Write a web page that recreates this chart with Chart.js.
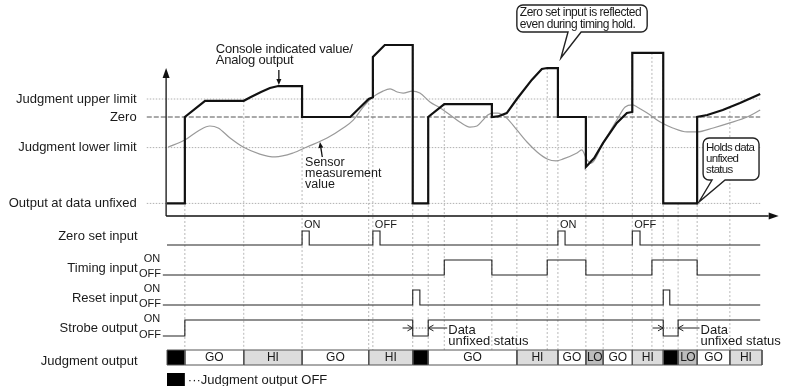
<!DOCTYPE html>
<html>
<head>
<meta charset="utf-8">
<script src="https://cdn.jsdelivr.net/npm/chart.js@4.4.1/dist/chart.umd.min.js"></script>
<style>
  html, body { margin: 0; padding: 0; background: #fff; }
  canvas { display: block; }
</style>
</head>
<body>
<canvas id="timing" width="785" height="386"></canvas>
<script>
// analog levels, in display units (zero = 0)
const LEVEL_UPPER = 10, LEVEL_ZERO = 0, LEVEL_LOWER = -17, LEVEL_UNFIXED = -48;

// console indicated value / analog output
const consoleT = [0, 3, 3, 6.4, 12.9, 14.1, 15.8, 17.3, 18.7, 22.7, 22.7, 30.8, 33.9, 34.6, 34.6, 36.6, 41.3,
  41.3, 43.9, 43.9, 46.6, 54.6, 54.6, 55.6, 57.1, 58.8, 61.3, 63.0, 63.9, 65.7, 65.7, 70.4, 70.4,
  71.8, 73.3, 75.6, 77.3, 78.2, 78.2, 83.4, 83.4, 89.1, 89.1, 90.8, 93.4, 96.3, 99.7];
const consoleV = [-48, -48, 0, 9, 9, 11.1, 13.9, 16.1, 17.2, 17.2, 0, 0, 10, 11, 33.3, 40, 40,
  -48, -48, 0, 7.2, 7.2, 0, 0.3, 2.2, 10, 20.6, 26.7, 27.2, 27.2, 0, 0, -27.8,
  -22.8, -14.4, -3.3, 2.2, 2.8, 35.6, 35.6, -48, -48, 0, 1.1, 3.9, 7.8, 12.8];

// sensor measurement value
const sensorT = [0.2, 3.0, 5.5, 7.2, 8.6, 10.6, 12.8, 15.6, 18.2, 21.2, 23.5, 26.9, 29.6, 31.3, 33.0, 34.6,
  36.3, 37.5, 38.7, 39.7, 41.2, 42.5, 44.2, 45.9, 47.6, 49.2, 50.9, 52.1, 53.1, 53.9, 54.8, 55.6,
  57.1, 58.8, 60.5, 62.2, 63.9, 65.4, 66.6, 68.9, 69.7, 70.6, 71.3, 73.3, 75.6, 77.0, 78.2, 79.0,
  80.7, 82.9, 85.0, 87.4, 89.1, 91.8, 94.6, 97.5, 99.7];
const sensorV = [-16.7, -12.8, -7.2, -5.0, -6.1, -11.7, -16.7, -20.6, -22.2, -20.0, -16.7, -11.7, -6.1, -1.7, 5.6, 11.1,
  14.4, 15.6, 13.9, 13.3, 14.4, 13.3, 8.3, 5.0, 1.1, -2.8, -5.6, -5.0, -1.7, 1.1, 2.2, 2.2,
  -0.6, -7.2, -13.9, -19.4, -23.3, -24.4, -23.3, -20.0, -18.3, -23.9, -25.6, -14.4, -1.7, 5.6, 6.7, 5.6,
  2.2, -2.8, -6.1, -8.3, -8.3, -6.1, -3.3, 0, 3.9];

// digital signals
const zeroSetPulses = [[22.7, 23.9], [34.6, 35.8], [65.7, 66.9], [78.2, 79.5]];
const zeroSetTags = ['ON', 'OFF', 'ON', 'OFF'];
const timingEdges = [46.6, 54.6, 63.9, 70.4, 81.5, 89.1];
const resetPulses = [[41.3, 42.5], [83.4, 84.5]];
const strobeEdges = [3, 41.3, 43.9, 83.4, 85.9];

// judgment output
const judgeStarts = [0, 3, 12.9, 22.7, 33.9, 41.3, 43.9, 58.8, 65.7, 70.4, 73.3, 78.2, 83.4, 85.9, 89.1, 94.6];
const judgeStates = ['OFF', 'GO', 'HI', 'GO', 'HI', 'OFF', 'GO', 'HI', 'GO', 'LO', 'GO', 'HI', 'OFF', 'LO', 'GO', 'HI'];
const judgeEnd = 100;

// change points marked with vertical guides
const gridTimes = [3, 12.9, 22.7, 33.9, 34.6, 41.3, 43.9, 46.6, 54.6, 58.8, 63.9, 65.7, 70.4, 73.3,
  78.2, 81.5, 83.4, 85.9, 89.1, 94.6];

const levelLabels = [['Judgment upper limit', LEVEL_UPPER], ['Zero', LEVEL_ZERO],
  ['Judgment lower limit', LEVEL_LOWER], ['Output at data unfixed', LEVEL_UNFIXED]];

// ---- layout (vertical layout units, top = 0) ----
const ZERO_ROW = 117, ROW_PER_UNIT = 1.8;
const analogY = v => ZERO_ROW - v * ROW_PER_UNIT;
const lanes = {
  zero:   { name: 'Zero set input', off: 245, on: 231, tags: false },
  timing: { name: 'Timing input',   off: 275, on: 260, tags: true },
  reset:  { name: 'Reset input',    off: 305, on: 290, tags: true },
  strobe: { name: 'Strobe output',  off: 336, on: 320, tags: true }
};
const JUDGE_TOP = 350, JUDGE_BOTTOM = 365;
const AXIS_ROW = 216, AXIS_TOP = 68, AXIS_T = -0.15, AXIS_END_T = 102.8;
const LABEL_T = -5.1, REF_START = -3.4, REF_END = 99.7;
const FONT = '"Liberation Sans", Arial, sans-serif';
const judgeFill = { OFF: '#000', GO: '#fff', HI: '#dcdcdc', LO: '#bcbcbc' };

function stepPoints(lane, edges, t0, t1, startOn) {
  let on = startOn;
  const lvl = () => (on ? lane.on : lane.off);
  const pts = [{ x: t0, y: lvl() }];
  edges.forEach(t => { pts.push({ x: t, y: lvl() }); on = !on; pts.push({ x: t, y: lvl() }); });
  pts.push({ x: t1, y: lvl() });
  return pts;
}

function consoleTop(t) {
  let best = -Infinity;
  for (let i = 0; i < consoleT.length; i++) {
    if (Math.abs(consoleT[i] - t) < 1e-6) best = Math.max(best, consoleV[i]);
    if (i < consoleT.length - 1) {
      const a = consoleT[i], b = consoleT[i + 1];
      if (b > a && t > a && t < b) best = Math.max(best, consoleV[i] + (consoleV[i + 1] - consoleV[i]) * (t - a) / (b - a));
    }
  }
  return best;
}

const datasets = [];

datasets.push({
  data: consoleT.map((t, i) => ({ x: t, y: analogY(consoleV[i]) })),
  borderColor: '#111', borderWidth: 2.2, borderJoinStyle: 'miter', tension: 0, order: 0
});
datasets.push({
  data: sensorT.map((t, i) => ({ x: t, y: analogY(sensorV[i]) })),
  borderColor: '#9a9a9a', borderWidth: 1.2, cubicInterpolationMode: 'monotone', order: 1
});

levelLabels.forEach(([, v]) => {
  const isZero = v === LEVEL_ZERO;
  datasets.push({
    data: [{ x: REF_START, y: analogY(v) }, { x: REF_END, y: analogY(v) }],
    borderColor: isZero ? '#555' : '#b0b0b0', borderWidth: 1,
    borderDash: isZero ? [5, 2] : [1.5, 1.5], order: 6
  });
});

const guidePts = [];
gridTimes.forEach(t => {
  guidePts.push({ x: t, y: analogY(consoleTop(t)) }, { x: t, y: JUDGE_BOTTOM }, { x: t, y: null });
});
datasets.push({ data: guidePts, borderColor: '#b8b8b8', borderWidth: 1, borderDash: [2, 2], spanGaps: false, order: 7 });

const signalStyle = { borderColor: '#222', borderWidth: 1.1, borderJoinStyle: 'miter', tension: 0, order: 2 };
datasets.push(Object.assign({ data: stepPoints(lanes.zero, zeroSetPulses.flat(), 0, REF_END, false) }, signalStyle));
datasets.push(Object.assign({ data: stepPoints(lanes.timing, timingEdges, -0.7, REF_END, false) }, signalStyle));
datasets.push(Object.assign({ data: stepPoints(lanes.reset, resetPulses.flat(), -0.7, REF_END, false) }, signalStyle));
datasets.push(Object.assign({ data: stepPoints(lanes.strobe, strobeEdges, -0.7, REF_END, false) }, signalStyle));

judgeStates.forEach((s, i) => {
  const t0 = judgeStarts[i], t1 = i + 1 < judgeStarts.length ? judgeStarts[i + 1] : judgeEnd;
  datasets.push({
    data: [{ x: t0, y: JUDGE_TOP }, { x: t1, y: JUDGE_TOP }, { x: t1, y: JUDGE_BOTTOM },
           { x: t0, y: JUDGE_BOTTOM }, { x: t0, y: JUDGE_TOP }],
    borderColor: '#555', borderWidth: 1, backgroundColor: judgeFill[s], fill: 'shape', order: 3
  });
});

// ---- drawing helpers for labels, arrows and callouts ----
function label(ctx, s, x, y, size, align, spacing) {
  ctx.save();
  ctx.font = size + 'px ' + FONT;
  ctx.fillStyle = '#1a1a1a';
  ctx.textAlign = align || 'left';
  ctx.textBaseline = 'middle';
  if (spacing) ctx.letterSpacing = spacing;
  ctx.fillText(s, x, y);
  ctx.restore();
}

function openArrow(ctx, x0, y0, x1, y1) {
  const a = Math.atan2(y1 - y0, x1 - x0), h = 6;
  ctx.beginPath();
  ctx.moveTo(x0, y0); ctx.lineTo(x1, y1);
  ctx.moveTo(x1 - h * Math.cos(a - 0.5), y1 - h * Math.sin(a - 0.5));
  ctx.lineTo(x1, y1);
  ctx.lineTo(x1 - h * Math.cos(a + 0.5), y1 - h * Math.sin(a + 0.5));
  ctx.stroke();
}

function solidArrow(ctx, x0, y0, x1, y1, len, half) {
  const a = Math.atan2(y1 - y0, x1 - x0);
  ctx.beginPath();
  ctx.moveTo(x0, y0);
  ctx.lineTo(x1 - len * Math.cos(a), y1 - len * Math.sin(a));
  ctx.stroke();
  ctx.beginPath();
  ctx.moveTo(x1, y1);
  ctx.lineTo(x1 - len * Math.cos(a) + half * Math.sin(a), y1 - len * Math.sin(a) - half * Math.cos(a));
  ctx.lineTo(x1 - len * Math.cos(a) - half * Math.sin(a), y1 - len * Math.sin(a) + half * Math.cos(a));
  ctx.closePath();
  ctx.fill();
}

function callout(ctx, box, tail, lines, size, spacing) {
  const [x0, y0, x1, y1] = box, r = 6;
  ctx.save();
  ctx.beginPath();
  ctx.moveTo(x0 + r, y0);
  ctx.arcTo(x1, y0, x1, y1, r);
  ctx.arcTo(x1, y1, x0, y1, r);
  ctx.lineTo(tail[2], y1);
  ctx.lineTo(tail[4], tail[5]);
  ctx.lineTo(tail[0], y1);
  ctx.arcTo(x0, y1, x0, y0, r);
  ctx.arcTo(x0, y0, x1, y0, r);
  ctx.closePath();
  ctx.fillStyle = '#fff';
  ctx.fill();
  ctx.lineWidth = 1.4;
  ctx.strokeStyle = '#222';
  ctx.stroke();
  ctx.restore();
  lines.forEach(([s, y]) => label(ctx, s, x0 + 3, y, size, 'left', spacing));
}

const decor = {
  id: 'decor',
  afterDatasetsDraw(chart) {
    const ctx = chart.ctx, xs = chart.scales.x, ys = chart.scales.y;
    const px = t => xs.getPixelForValue(t), py = r => ys.getPixelForValue(r);
    ctx.save();
    ctx.strokeStyle = '#111';
    ctx.fillStyle = '#111';
    ctx.lineWidth = 1.3;

    // axes of the analog panel
    solidArrow(ctx, px(AXIS_T), py(AXIS_ROW), px(AXIS_T), py(AXIS_TOP), 10, 3.5);
    solidArrow(ctx, px(AXIS_T), py(AXIS_ROW), px(AXIS_END_T), py(AXIS_ROW), 10, 3.5);

    // level names
    levelLabels.forEach(([s, v]) => label(ctx, s, px(LABEL_T), py(analogY(v)), 13, 'right'));

    // lane names and ON/OFF tags
    Object.values(lanes).forEach(l => {
      const mid = l.tags ? (l.on + l.off) / 2 + 0.5 : l.off - 9;
      label(ctx, l.name, px(LABEL_T) + 1, py(mid), 13, 'right');
      if (l.tags) {
        label(ctx, 'ON', px(-3.9), py(l.on - 1.5), 11, 'left');
        label(ctx, 'OFF', px(-4.7), py(l.off - 1.5), 11, 'left');
      }
    });
    label(ctx, 'Judgment output', px(LABEL_T) + 1, py(JUDGE_TOP + 11), 13, 'right');

    // zero set pulse tags
    zeroSetPulses.forEach(([t0], i) => label(ctx, zeroSetTags[i], px(t0) + 2, py(lanes.zero.on - 6), 11, 'left'));

    // judgment segment names
    judgeStates.forEach((s, i) => {
      if (s === 'OFF') return;
      const t0 = judgeStarts[i], t1 = i + 1 < judgeStarts.length ? judgeStarts[i + 1] : judgeEnd;
      label(ctx, s, (px(t0) + px(t1)) / 2, py((JUDGE_TOP + JUDGE_BOTTOM) / 2 + 0.5), 12, 'center', s === 'LO' ? '-0.6px' : '0px');
    });

    // key
    ctx.fillStyle = '#000';
    ctx.fillRect(px(0), py(373), px(3) - px(0), py(390) - py(373));
    label(ctx, '\u00b7\u00b7\u00b7Judgment output OFF', px(3) + 3, py(380), 13, 'left');

    // analog annotations
    label(ctx, 'Console indicated value/', px(8.2), py(49), 13, 'left', '-0.2px');
    label(ctx, 'Analog output', px(8.2), py(60), 13, 'left', '-0.2px');
    ctx.fillStyle = '#111';
    solidArrow(ctx, px(18.8), py(70), px(18.8), py(85), 6, 2.5);
    label(ctx, 'Sensor', px(23.2), py(163), 12.5, 'left');
    label(ctx, 'measurement', px(23.2), py(174), 12.5, 'left');
    label(ctx, 'value', px(23.2), py(185), 12.5, 'left');
    ctx.fillStyle = '#111';
    solidArrow(ctx, px(26.1), py(157), px(25.7), py(142), 6, 2.5);

    // data unfixed markers on the strobe lane
    const mid = (lanes.strobe.on + lanes.strobe.off) / 2;
    [[39.6, 41.3, 43.9, 47.1], [81.6, 83.4, 85.9, 89.5]].forEach(([a, b, c, d]) => {
      ctx.lineWidth = 1;
      ctx.strokeStyle = '#222';
      openArrow(ctx, px(a), py(mid), px(b), py(mid));
      openArrow(ctx, px(d), py(mid), px(c), py(mid));
      ctx.save();
      ctx.setLineDash([1.5, 1.5]);
      ctx.strokeStyle = '#888';
      ctx.beginPath(); ctx.moveTo(px(b), py(mid)); ctx.lineTo(px(c), py(mid)); ctx.stroke();
      ctx.restore();
      label(ctx, 'Data', px(d) + 1, py(mid + 2), 13, 'left');
      label(ctx, 'unfixed status', px(d) + 1, py(mid + 13), 13, 'left');
    });

    // callouts
    callout(ctx, [px(58.8), py(5), px(80.7), py(32)], [px(67.4), 0, px(69.6), 0, px(66.2), py(58)],
      [['Zero set input is reflected', py(13)], ['even during timing hold.', py(25)]], 12, '-0.5px');
    callout(ctx, [px(90.1), py(138), px(99.5), py(180)], [px(91.6), 0, px(93.8), 0, px(89.4), py(202)],
      [['Holds data', py(148)], ['unfixed', py(159)], ['status', py(170)]], 11.5, '-0.7px');

    ctx.restore();
  }
};

new Chart(document.getElementById('timing').getContext('2d'), {
  type: 'line',
  data: { datasets },
  options: {
    responsive: false,
    animation: false,
    events: [],
    layout: { padding: 0 },
    elements: { point: { radius: 0 }, line: { fill: false } },
    plugins: { legend: { display: false }, tooltip: { enabled: false } },
    scales: {
      x: { type: 'linear', min: -167 / 5.95, max: 618 / 5.95, display: false },
      y: { type: 'linear', min: 0, max: 386, reverse: true, display: false }
    }
  },
  plugins: [decor]
});
</script>
</body>
</html>
